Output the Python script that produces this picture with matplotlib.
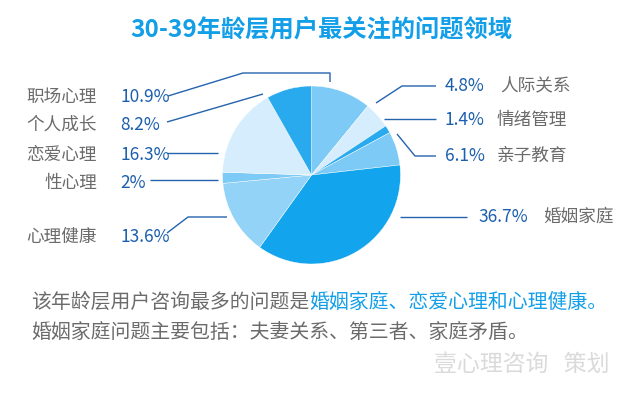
import matplotlib
matplotlib.use("Agg")
import matplotlib.pyplot as plt

plt.rcParams["font.family"] = ["Noto Sans CJK SC", "DejaVu Sans"]

# ---- data (clockwise from 12 o'clock) ---------------------------------------
CATEGORIES = ["职场心理", "人际关系", "情绪管理", "亲子教育", "婚姻家庭",
              "心理健康", "性心理", "恋爱心理", "个人成长"]
SHARES = [10.9, 4.8, 1.4, 6.1, 36.7, 13.6, 2.0, 16.3, 8.2]
PCT_LABELS = ["10.9%", "4.8%", "1.4%", "6.1%", "36.7%",
              "13.6%", "2%", "16.3%", "8.2%"]

COLORS = ["#7ccaf5", "#d5edfc", "#29aaef", "#7ccaf5", "#12a5ee",
          "#92d3f7", "#7ccaf5", "#d5edfc", "#29aaef"]

TITLE = "30-39年龄层用户最关注的问题领域"
NOTE_1A = "该年龄层用户咨询最多的问题是"
NOTE_1B = "婚姻家庭、恋爱心理和心理健康。"
NOTE_2 = "婚姻家庭问题主要包括：夫妻关系、第三者、家庭矛盾。"
CREDIT = "壹心理咨询   策划"

C_TITLE = "#139fe8"
C_NAME = "#6b6b6b"
C_PCT = "#1b5fae"
C_LINE = "#2463ad"

W, H = 641, 398

fig = plt.figure(figsize=(W / 100, H / 100), dpi=100)
ax = fig.add_axes([0, 0, 1, 1])


def py(y):
    # pixel row (from top) -> data y
    return H - y


cx, cy, r = 311.5, 175, 89
ax.pie(SHARES, colors=COLORS, startangle=90, counterclock=False,
       center=(cx, py(cy)), radius=r, frame=True,
       wedgeprops=dict(edgecolor="white", linewidth=0.3))
ax.set_xlim(0, W)
ax.set_ylim(0, H)
ax.set_aspect("auto")
ax.axis("off")

ax.text(321.5, py(31), TITLE, ha="center", va="center",
        fontsize=17.5, fontweight="bold", color=C_TITLE)

# label layout: category -> (side, name pos, pct pos, leader polyline)
LAYOUT = {
    "职场心理": ("L", (97, 97), (120, 97),
             [(168, 96), (243, 73), (330, 73), (330, 82)]),
    "个人成长": ("L", (97, 125), (120, 125), [(167, 122), (263, 94)]),
    "恋爱心理": ("L", (97, 155), (120, 155), [(167, 153), (218, 153)]),
    "性心理": ("L", (97, 183), (120, 183), [(150, 180), (218, 180)]),
    "心理健康": ("L", (97, 237), (120, 237),
             [(167, 233), (188, 217), (227, 217)]),
    "人际关系": ("R", (500, 86), (445, 86),
             [(376, 103), (402, 86), (436, 86)]),
    "情绪管理": ("R", (497, 120), (445, 120), [(384, 119), (436, 119)]),
    "亲子教育": ("R", (497, 156), (445, 156),
             [(397, 134), (415, 156), (436, 156)]),
    "婚姻家庭": ("R", (543, 217), (478, 217), [(400, 217), (467, 217)]),
}

for cat, pct in zip(CATEGORIES, PCT_LABELS):
    side, (nx, ny), (qx, qy), pts = LAYOUT[cat]
    ax.text(nx, py(ny), cat, ha="right" if side == "L" else "left",
            va="center", fontsize=12.7, color=C_NAME)
    ax.text(qx, py(qy), pct, ha="left", va="center", fontsize=12.5,
            color=C_PCT)
    ax.plot([p[0] for p in pts], [py(p[1]) for p in pts],
            color=C_LINE, linewidth=1.0, solid_capstyle="butt")

t1 = ax.text(31, py(302), NOTE_1A, ha="left", va="center",
             fontsize=14.3, color=C_NAME)
ax.annotate(NOTE_1B, xy=(1, 0.5), xycoords=t1, ha="left", va="center",
            fontsize=14.3, color=C_TITLE)
ax.text(31, py(332), NOTE_2, ha="left", va="center",
        fontsize=14.3, color=C_NAME)
ax.text(434, py(364), CREDIT, ha="left", va="center",
        fontsize=16.5, color="#dadada")

fig.savefig("out.png", dpi=100, facecolor="white")
